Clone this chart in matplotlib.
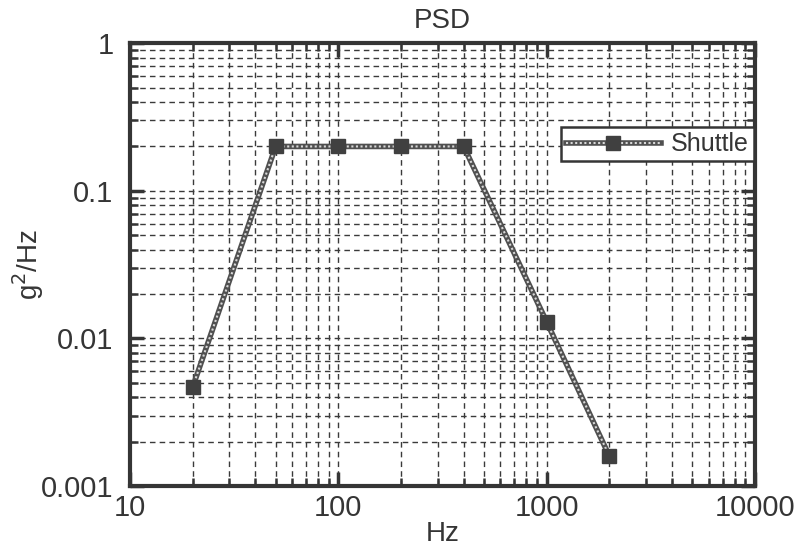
import matplotlib
matplotlib.use("Agg")
import matplotlib.pyplot as plt
from matplotlib.ticker import LogLocator, NullFormatter, FixedLocator, FixedFormatter

# dados do PSD (leitura do gráfico)
freq_hz = [20, 50, 100, 200, 400, 1000, 2000]
psd_g2hz = [0.0047, 0.2, 0.2, 0.2, 0.2, 0.013, 0.0016]
x_ticks = [10, 100, 1000, 10000]
x_labels = ["10", "100", "1000", "10000"]
y_ticks = [0.001, 0.01, 0.1, 1]
y_labels = ["0.001", "0.01", "0.1", "1"]

plt.rcParams["font.family"] = ["Liberation Sans", "DejaVu Sans"]
ink = "#353535"

fig = plt.figure(figsize=(8.03, 5.48), dpi=100)
ax = fig.add_axes([0.162, 0.113, 0.778, 0.808])

# linha "texturizada": traço escuro + pontilhado claro por cima
base, = ax.plot(freq_hz, psd_g2hz, color="#505050", lw=4.0, zorder=3)
over, = ax.plot(freq_hz, psd_g2hz, color="#d8d8d8", lw=1.5,
                ls=(0, (1, 1.2)), zorder=3.5)
mk, = ax.plot(freq_hz, psd_g2hz, ls="none", marker="s", markersize=10,
              markerfacecolor="#404040", markeredgecolor="#404040", zorder=4)

ax.set_xscale("log")
ax.set_yscale("log")
ax.set_xlim(10, 10000)
ax.set_ylim(0.001, 1)

ax.xaxis.set_major_locator(FixedLocator(x_ticks))
ax.xaxis.set_major_formatter(FixedFormatter(x_labels))
ax.yaxis.set_major_locator(FixedLocator(y_ticks))
ax.yaxis.set_major_formatter(FixedFormatter(y_labels))
for a in (ax.xaxis, ax.yaxis):
    a.set_minor_locator(LogLocator(base=10, subs=range(2, 10)))
    a.set_minor_formatter(NullFormatter())

ax.grid(True, which="both", linestyle=(0, (4, 3)), color="#3a3a3a", lw=1.0)
ax.tick_params(which="major", direction="in", length=10, width=2.5,
               labelsize=21, colors=ink, top=True, right=True)
ax.tick_params(axis="x", which="major", pad=6)
ax.tick_params(axis="y", which="major", pad=12)
ax.tick_params(which="minor", direction="in", length=6, width=1.8,
               top=True, right=True, colors=ink)
for s in ax.spines.values():
    s.set_linewidth(3)
    s.set_color(ink)

ax.set_title("PSD", fontsize=20, color=ink, pad=11)
ax.set_xlabel("Hz", fontsize=20, color=ink, labelpad=-1)
ax.set_ylabel("g$^2$/Hz", fontsize=20, color=ink, labelpad=-4)

leg = ax.legend([(base, over, mk)], ["Shuttle"], loc="upper right",
                bbox_to_anchor=(0.998, 0.81), fontsize=18,
                fancybox=False, framealpha=1, edgecolor=ink,
                handlelength=3.8, borderpad=0.2, handletextpad=0.4,
                borderaxespad=0)
leg.get_frame().set_linewidth(1.8)
for t in leg.get_texts():
    t.set_color(ink)

fig.savefig("out.png", dpi=100)
